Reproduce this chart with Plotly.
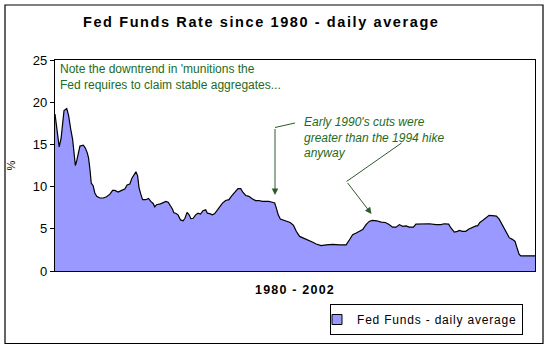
import plotly.graph_objects as go

years = [1980.00, 1980.08, 1980.14, 1980.20, 1980.29, 1980.35, 1980.43, 1980.56, 1980.65, 1980.75,
         1980.84, 1980.90, 1980.97, 1981.03, 1981.13, 1981.19, 1981.35, 1981.44, 1981.54, 1981.60,
         1981.67, 1981.73, 1981.82, 1981.90, 1981.99, 1982.14, 1982.30, 1982.46, 1982.62, 1982.75,
         1982.86, 1983.01, 1983.18, 1983.33, 1983.44, 1983.57, 1983.67, 1983.76, 1983.86, 1983.94,
         1984.01, 1984.10, 1984.18, 1984.33, 1984.46, 1984.57, 1984.68, 1984.76, 1984.84, 1985.03,
         1985.16, 1985.29, 1985.40, 1985.51, 1985.60, 1985.67, 1985.76, 1985.87, 1985.99, 1986.11,
         1986.20, 1986.30, 1986.40, 1986.48, 1986.59, 1986.71, 1986.82, 1986.94, 1987.06, 1987.19,
         1987.27, 1987.38, 1987.51, 1987.62, 1987.73, 1987.86, 1987.99, 1988.14, 1988.30, 1988.41,
         1988.57, 1988.73, 1988.86, 1988.97, 1989.10, 1989.25, 1989.41, 1989.57, 1989.73, 1989.89,
         1990.05, 1990.20, 1990.37, 1990.48, 1990.56, 1990.65, 1990.75, 1990.87, 1991.03, 1991.22,
         1991.38, 1991.51, 1991.67, 1991.82, 1991.99, 1992.14, 1992.30, 1992.46, 1992.70, 1992.94,
         1993.25, 1993.57, 1993.89, 1994.05, 1994.20, 1994.37, 1994.52, 1994.68, 1994.84, 1995.00,
         1995.16, 1995.35, 1995.56, 1995.76, 1995.92, 1996.11, 1996.27, 1996.43, 1996.59, 1996.75,
         1996.90, 1997.10, 1997.22, 1997.54, 1997.86, 1998.18, 1998.41, 1998.57, 1998.78, 1998.89,
         1999.05, 1999.20, 1999.29, 1999.44, 1999.60, 1999.73, 1999.92, 2000.08, 2000.16, 2000.27,
         2000.43, 2000.59, 2000.71, 2000.87, 2001.06, 2001.19, 2001.32, 2001.43, 2001.54, 2001.67,
         2001.82, 2001.95, 2002.06, 2002.14, 2002.22, 2002.38, 2002.86, 2002.90]

rates = [18.6, 16.8, 15.7, 14.7, 15.7, 17.4, 19.0, 19.25, 18.4, 16.8,
         15.6, 14.2, 12.5, 13.0, 14.2, 14.8, 14.9, 14.6, 14.0, 13.4,
         12.0, 10.4, 10.1, 9.25, 8.85, 8.65, 8.65, 8.8, 9.1, 9.55,
         9.55, 9.35, 9.55, 9.7, 10.2, 10.3, 11.0, 11.3, 11.75, 11.3,
         9.85, 9.05, 8.45, 8.45, 8.6, 8.25, 8.0, 7.6, 7.85, 7.95,
         8.15, 8.25, 8.15, 7.75, 7.35, 6.9, 6.85, 6.65, 6.05, 5.95,
         6.25, 6.95, 6.65, 6.2, 6.25, 6.65, 6.85, 6.75, 7.15, 7.25,
         6.85, 6.8, 6.65, 6.8, 7.15, 7.6, 8.05, 8.35, 8.45, 8.85,
         9.3, 9.75, 9.75, 9.3, 8.95, 8.85, 8.55, 8.35, 8.35, 8.25,
         8.25, 8.25, 8.15, 8.05, 7.45, 6.65, 6.15, 6.05, 5.9, 5.75,
         5.4, 4.7, 4.1, 3.95, 3.75, 3.55, 3.4, 3.2, 3.0, 3.1,
         3.15, 3.1, 3.1, 3.7, 4.3, 4.5, 4.7, 4.9, 5.5, 5.9,
         6.0, 5.95, 5.8, 5.75, 5.55, 5.2, 5.2, 5.5, 5.3, 5.35,
         5.2, 5.2, 5.55, 5.6, 5.6, 5.5, 5.5, 5.6, 5.55, 5.1,
         4.6, 4.7, 4.8, 4.7, 4.7, 4.95, 5.2, 5.35, 5.35, 5.75,
         6.05, 6.4, 6.6, 6.55, 6.5, 6.15, 5.6, 5.1, 4.5, 3.95,
         3.75, 3.5, 2.6, 2.0, 1.8, 1.8, 1.8, 1.8]

y_ticks = [0, 5, 10, 15, 20, 25]

title_text = "Fed Funds Rate since 1980 - daily average"
x_title = "1980 - 2002"
y_title = "%"
series_name = "Fed Funds - daily average"
note1 = "Note the downtrend in 'munitions the<br>Fed requires to claim stable aggregates..."
note2 = "Early 1990's cuts were<br>greater than the 1994 hike<br>anyway"

GREEN = "#1d6b1d"
ARROW = "#2d5a2d"
FILL = "#9999FF"


def spaced(s, px_):
    return '<span style="letter-spacing:%spx">%s</span>' % (px_, s)


fig = go.Figure()
fig.add_trace(go.Scatter(
    x=years, y=rates, name=series_name, mode="lines",
    fill="tozeroy", fillcolor=FILL, showlegend=False,
    line=dict(color="black", width=1.2),
))
# legend-only entry with a square swatch
fig.add_trace(go.Scatter(
    x=[None], y=[None], mode="markers", name=spaced(series_name, 0.8),
    marker=dict(symbol="square", size=10, color=FILL, line=dict(color="black", width=1)),
))

L, R, T, B = 55, 15, 60, 79
PW, PH = 550 - L - R, 350 - T - B


def px(x):
    return (x - L) / PW


def py(y):
    return (350 - B - y) / PH


shapes = [
    dict(type="rect", xref="paper", yref="paper", x0=px(5), x1=px(543), y0=py(343.5), y1=py(5),
         line=dict(color="black", width=1.2), fillcolor="rgba(0,0,0,0)", layer="below"),
    dict(type="line", xref="paper", yref="paper", x0=px(275), y0=py(127.5), x1=px(295), y1=py(123),
         line=dict(color=ARROW, width=1)),
    dict(type="line", xref="paper", yref="paper", x0=px(346.5), y0=py(181.5), x1=px(401.5), y1=py(143),
         line=dict(color=ARROW, width=1)),
]

annotations = [
    dict(text=note1, xref="paper", yref="paper", x=px(58), y=py(60), xanchor="left", yanchor="top",
         align="left", showarrow=False, font=dict(family="Arial", size=12, color=GREEN)),
    dict(text="<i>" + note2 + "</i>", xref="paper", yref="paper", x=px(302), y=py(113),
         xanchor="left", yanchor="top", align="left", showarrow=False,
         font=dict(family="Arial", size=12, color=GREEN)),
    dict(text="", xref="paper", yref="paper", x=px(275), y=py(195), ax=0, ay=-67.5,
         showarrow=True, arrowhead=2, arrowsize=1.3, arrowwidth=1, arrowcolor=ARROW),
    dict(text="", xref="paper", yref="paper", x=px(371.5), y=py(214), ax=-25, ay=-32.5,
         showarrow=True, arrowhead=2, arrowsize=1.3, arrowwidth=1, arrowcolor=ARROW),
    dict(text="<b>" + spaced(title_text, 1.6) + "</b>", xref="paper", yref="paper", x=px(261), y=py(22),
         xanchor="center", yanchor="middle", showarrow=False,
         font=dict(family="Arial", size=14.5, color="black")),
]

fig.update_layout(
    width=550, height=350,
    margin=dict(l=L, r=R, t=T, b=B),
    paper_bgcolor="white", plot_bgcolor="white",
    font=dict(family="Arial", color="black"),
    shapes=shapes, annotations=annotations,
    showlegend=True,
    legend=dict(x=px(523), y=py(335), xanchor="right", yanchor="bottom",
                bordercolor="black", borderwidth=1, bgcolor="white",
                font=dict(family="Arial", size=12), itemwidth=30,
                indentation=-14, tracegroupgap=0),
    xaxis=dict(range=[1980.0, 2002.9], showticklabels=False, ticks="", showgrid=False,
               zeroline=False, showline=True, linecolor="black", linewidth=1.2, mirror=True,
               title=dict(text="<b>" + spaced(x_title, 1.2) + "</b>", font=dict(family="Arial", size=12.5),
                          standoff=14)),
    yaxis=dict(range=[0, 25], tickvals=y_ticks, ticks="outside", ticklen=4, tickcolor="black",
               showgrid=False, zeroline=False, showline=True, linecolor="black", linewidth=1.2,
               mirror=True, tickfont=dict(family="Arial", size=13),
               title=dict(text=y_title, font=dict(family="Arial", size=11), standoff=14)),
)

fig.write_html("out.html")
